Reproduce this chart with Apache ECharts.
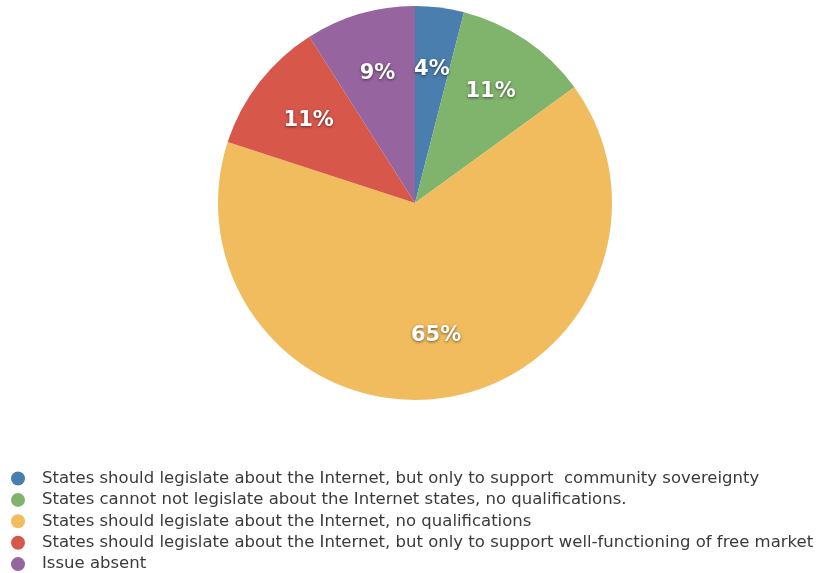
<!DOCTYPE html>
<html>
<head>
<meta charset="utf-8">
<script src="https://cdn.jsdelivr.net/npm/echarts@6/dist/echarts.min.js"></script>
<style>
  html, body { margin: 0; padding: 0; background: #fff; }
  #chart { width: 817px; height: 573px; }
</style>
</head>
<body>
<div id="chart"></div>
<script>
const categories = [
  "States should legislate about the Internet, but only to support  community sovereignty",
  "States cannot not legislate about the Internet states, no qualifications.",
  "States should legislate about the Internet, no qualifications",
  "States should legislate about the Internet, but only to support well-functioning of free market",
  "Issue absent"
];
const shares = [4, 11, 65, 11, 9];
const colors = ["#4a7eae", "#80b46d", "#f0bc5e", "#d8574b", "#96649f"];

const chart = echarts.init(document.getElementById("chart"));

const pieData = categories.map((name, i) => ({
  name,
  value: shares[i],
  itemStyle: { color: colors[i] }
}));

chart.setOption({
  animation: false,
  color: colors,
  legend: {
    orient: "vertical",
    left: 11,
    top: 470,
    height: 110,
    padding: 0,
    icon: "circle",
    itemWidth: 14,
    itemHeight: 14,
    itemGap: 4.4,
    textStyle: { fontFamily: "DejaVu Sans", fontSize: 16.5, color: "#3a3a3a", padding: [0, 0, 0, 12] },
    data: categories
  },
  series: [
    {
      type: "pie",
      center: [415, 203],
      radius: [0, 197],
      startAngle: 90,
      clockwise: true,
      silent: true,
      label: { show: false },
      labelLine: { show: false },
      itemStyle: { borderWidth: 0 },
      data: pieData
    },
    {
      // transparent ring only used to place the percentage labels further out
      type: "pie",
      center: [415, 203],
      radius: [66, 197],
      startAngle: 90,
      clockwise: true,
      silent: true,
      itemStyle: { color: "rgba(0,0,0,0)", borderWidth: 0 },
      label: {
        show: true,
        position: "inside",
        formatter: p => p.value + "%",
        color: "#fff",
        fontFamily: "DejaVu Sans",
        fontWeight: "bold",
        fontSize: 21,
        textShadowColor: "rgba(0,0,0,0.55)",
        textShadowBlur: 3,
        textShadowOffsetX: 0,
        textShadowOffsetY: 1
      },
      labelLine: { show: false },
      data: categories.map((name, i) => ({ name: name + " ", value: shares[i] }))
    }
  ]
});
</script>
</body>
</html>
